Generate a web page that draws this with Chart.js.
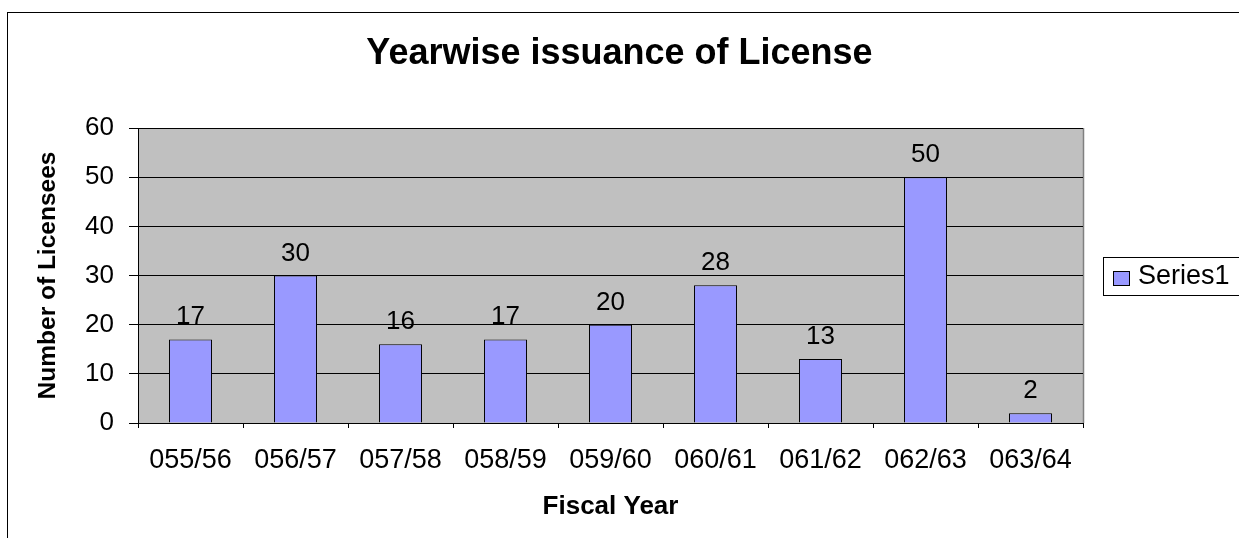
<!DOCTYPE html>
<html>
<head>
<meta charset="utf-8">
<style>
  html, body { margin: 0; padding: 0; background: #ffffff; }
  canvas { display: block; }
</style>
<script src="https://cdn.jsdelivr.net/npm/chart.js@4/dist/chart.umd.min.js"></script>
</head>
<body>
<canvas id="c" width="1239" height="538"></canvas>
<script>
// ---- data ----
const categories = ['055/56', '056/57', '057/58', '058/59', '059/60', '060/61', '061/62', '062/63', '063/64'];
const licenses = [17, 30, 16, 17, 20, 28, 13, 50, 2];
const seriesName = 'Series1';
const chartTitle = 'Yearwise issuance of License';
const xTitle = 'Fiscal Year';
const yTitle = 'Number of Licensees';
const yMin = 0;
const yMax = 60;
const yStep = 10;

const FONT = "'Liberation Sans', Arial, sans-serif";
const BAR_FILL = '#9999FF';

const excelPlugin = {
  id: 'excelLook',
  beforeDraw(chart) {
    const { ctx, chartArea: a } = chart;
    ctx.save();
    ctx.fillStyle = '#ffffff';
    ctx.fillRect(0, 0, chart.width, chart.height);
    // outer chart frame
    ctx.strokeStyle = '#000000';
    ctx.lineWidth = 1;
    ctx.strokeRect(7.5, 12.5, chart.width + 40, chart.height + 40);
    // plot area
    ctx.fillStyle = '#C0C0C0';
    ctx.fillRect(a.left, a.top, a.right - a.left, a.bottom - a.top);
    ctx.strokeStyle = '#808080';
    ctx.lineWidth = 1.5;
    ctx.beginPath();
    ctx.moveTo(a.right + 0.5, a.top);
    ctx.lineTo(a.right + 0.5, a.bottom);
    ctx.stroke();
    ctx.restore();
  },
  afterDatasetsDraw(chart) {
    const { ctx } = chart;
    const meta = chart.getDatasetMeta(0);
    const values = chart.data.datasets[0].data;
    ctx.save();
    ctx.font = '26px ' + FONT;
    ctx.fillStyle = '#000000';
    ctx.textAlign = 'center';
    ctx.textBaseline = 'alphabetic';
    meta.data.forEach((bar, i) => {
      ctx.fillText(String(values[i]), bar.x, bar.y - 15);
    });
    ctx.restore();
  },
  afterDraw(chart) {
    const { ctx } = chart;
    const ds = chart.data.datasets[0];
    ctx.save();
    // legend box
    ctx.strokeStyle = '#000000';
    ctx.lineWidth = 1;
    ctx.fillStyle = '#ffffff';
    ctx.fillRect(1103.5, 257.5, 200, 38);
    ctx.strokeRect(1103.5, 257.5, 200, 38);
    // marker
    ctx.fillStyle = ds.backgroundColor;
    ctx.fillRect(1113.5, 271.5, 16, 14);
    ctx.strokeRect(1113.5, 271.5, 16, 14);
    // label
    ctx.fillStyle = '#000000';
    ctx.font = '27px ' + FONT;
    ctx.textAlign = 'left';
    ctx.textBaseline = 'middle';
    ctx.fillText(ds.label, 1138, 277);
    ctx.restore();
  }
};

new Chart(document.getElementById('c'), {
  type: 'bar',
  data: {
    labels: categories,
    datasets: [{
      label: seriesName,
      data: licenses,
      backgroundColor: BAR_FILL,
      borderColor: '#000000',
      borderWidth: 1,
      categoryPercentage: 1.0,
      barPercentage: 0.41
    }]
  },
  options: {
    responsive: false,
    animation: false,
    devicePixelRatio: 1,
    layout: { padding: 0 },
    plugins: {
      legend: { display: false },
      tooltip: { enabled: false },
      title: {
        display: true,
        text: chartTitle,
        color: '#000000',
        font: { family: FONT, size: 36, weight: 'bold' },
        padding: { top: 32, bottom: 52.8 }
      }
    },
    scales: {
      x: {
        offset: true,
        grid: {
          offset: true,
          drawOnChartArea: false,
          drawTicks: true,
          tickLength: 5,
          color: '#000000'
        },
        border: { display: true, color: '#000000', width: 1 },
        ticks: {
          color: '#000000',
          padding: 16,
          maxRotation: 0,
          autoSkip: false,
          font: { family: FONT, size: 27 }
        },
        title: {
          display: true,
          text: xTitle,
          color: '#000000',
          font: { family: FONT, size: 26, weight: 'bold' },
          padding: { top: 0, bottom: 16 }
        },
        afterFit(scale) { scale.height = 115; }
      },
      y: {
        min: yMin,
        max: yMax,
        grid: {
          color: '#000000',
          lineWidth: 1,
          drawTicks: true,
          tickLength: 9
        },
        border: { display: true, color: '#000000', width: 1 },
        ticks: {
          stepSize: yStep,
          color: '#000000',
          padding: 15,
          font: { family: FONT, size: 26 }
        },
        title: {
          display: true,
          text: yTitle,
          color: '#000000',
          font: { family: FONT, size: 24.5, weight: 'bold' },
          padding: { top: 34, bottom: 0 }
        },
        afterFit(scale) { scale.width = 138; }
      },
      // empty right-hand band that holds the legend area
      legendBand: {
        type: 'linear',
        position: 'right',
        display: true,
        grid: { display: false, drawTicks: false },
        border: { display: false },
        ticks: { display: false },
        afterFit(scale) { scale.width = 156; }
      }
    }
  },
  plugins: [excelPlugin]
});
</script>
</body>
</html>
